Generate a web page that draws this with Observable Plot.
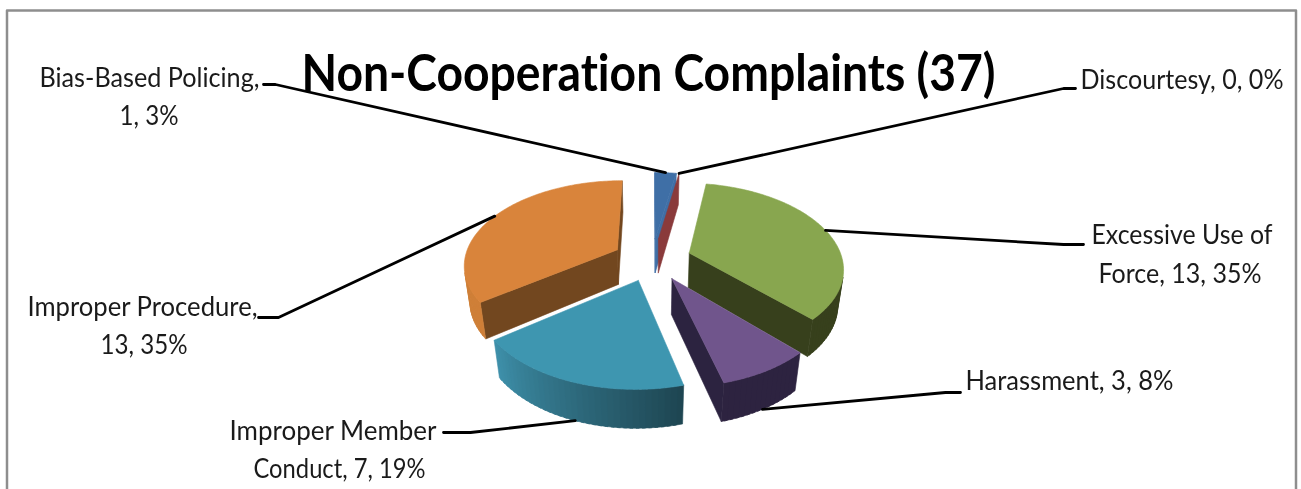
<!DOCTYPE html>
<html><head><meta charset="utf-8">
<script src="https://cdn.jsdelivr.net/npm/d3@7"></script>
<script src="https://cdn.jsdelivr.net/npm/@observablehq/plot@0.6"></script>
<style>html,body{margin:0;padding:0;background:#fff;overflow:hidden}svg{display:block;filter:blur(0.45px)}svg text{font-variant-ligatures:none}</style>
</head><body><div id="chart"></div>
<script>
// --- data
const categories = ["Bias-Based Policing","Discourtesy","Excessive Use of Force","Harassment","Improper Member Conduct","Improper Procedure"];
const counts = [1,0,13,3,7,13];
const percents = [3,0,35,8,19,35];
const chartTitle = "Non-Cooperation Complaints (37)";
// --- styles
const topColors = ["#3f6fa6","#8a3a3b","#88a64f","#70558c","#3e96b0","#d9843b"];
const faceColors = ["#3f6fa6","#8a3a3b","#37401c","#2c2340","#2a6070","#72471f"];
const rimStart = ["#3f6fa6","#8a3a3b","#37401c","#2d2340","#1e4551","#cf7f38"];
const rimEnd = ["#3f6fa6","#8a3a3b","#37401c","#2d2340","#3e90aa","#d08038"];
const drawOrder = [5,2,0,1,4,3];
const leaderDepth = [0,0,0,1,1,0];
// --- layout: text boxes and leader stubs
const labelLines = [
 {t:"Bias-Based Policing,",x0:39,x1:259,y:86},{t:"1, 3%",x0:119,x1:178,y:124},
 {t:"Discourtesy, 0, 0%",x0:1080,x1:1283,y:88},
 {t:"Excessive Use of",x0:1091,x1:1272,y:243},{t:"Force, 13, 35%",x0:1098,x1:1261,y:282},
 {t:"Harassment, 3, 8%",x0:965,x1:1173,y:389},
 {t:"Improper Member",x0:229,x1:436,y:439},{t:"Conduct, 7, 19%",x0:253,x1:425,y:477},
 {t:"Improper Procedure,",x0:27,x1:257,y:315},{t:"13, 35%",x0:100,x1:187,y:353}
];
const leaderStubs = [
 [[263,84],[275,84]],[[1075,88],[1063,88]],[[1083,244],[1063,244]],
 [[960,392],[945,392]],[[443,432],[470,432]],[[258,317],[278,317]]
];
const frameLine = [[6.5,495],[6.5,10],[1295.5,10],[1295.5,495]];
// --- pie projection
const vx=651.5, vy=258.8, rx=153, ry=83.3, persp=0.164, drop=36, depthGain=0.03, explode=0.258;
const rad = d=>d*Math.PI/180;
const total = d3.sum(counts);
let acc=0;
const slices = counts.map((v,i)=>{const a0=acc/total*360; acc+=v; const a1=acc/total*360; return {i,a0,a1,mid:(a0+a1)/2};});
function project(s,r,a,t){ // slice s, radius fraction r, angle a, t=0 top,1 bottom
  const m=rad(s.mid), A=rad(a);
  const X=explode*Math.sin(m)+r*Math.sin(A), Z=explode*Math.cos(m)+r*Math.cos(A);
  const d=1+persp*Z+depthGain*t;
  return [vx+rx*X/d, vy+(-ry*Z+drop*t)/d];
}
const area=p=>{let q=0;for(let k=0;k<p.length;k++){const a=p[k],b=p[(k+1)%p.length];q+=a[0]*b[1]-b[0]*a[1];}return q/2;};
const poly=(pts,fill,sw=0.6)=>Plot.line([...pts,pts[0]],{x:d=>d[0],y:d=>d[1],fill,stroke:fill,strokeWidth:sw,strokeLinejoin:"round"});
const sliceMarks=[];
for(const idx of drawOrder){
  const s=slices[idx];
  const apexT=project(s,0,s.a0,0), apexB=project(s,0,s.a0,1);
  const fs=[apexT,project(s,1,s.a0,0),project(s,1,s.a0,1),apexB];
  const fe=[apexT,project(s,1,s.a1,0),project(s,1,s.a1,1),apexB];
  if(area(fs)<0) sliceMarks.push(poly(fs,faceColors[idx]));
  if(area(fe)>0) sliceMarks.push(poly(fe,faceColors[idx]));
  const n=Math.max(1,Math.ceil((s.a1-s.a0)/2));
  const col=d3.interpolateRgb(rimStart[idx],rimEnd[idx]);
  for(let k=0;k<n;k++){
    const a=s.a0+(s.a1-s.a0)*k/n, b=Math.min(s.a1,s.a0+(s.a1-s.a0)*(k+1)/n+1);
    const q=[project(s,1,a,0),project(s,1,b,0),project(s,1,b,1),project(s,1,a,1)];
    if(area(q)<0) sliceMarks.push(poly(q,col((k+.5)/n),0.6));
  }
  if(s.a1>s.a0){
    const topPts=[apexT];
    for(let k=0;k<=n*2;k++) topPts.push(project(s,1,s.a0+(s.a1-s.a0)*k/(n*2),0));
    sliceMarks.push(poly(topPts,topColors[idx]));
  }
}
const leaders=slices.map((s,i)=>[...leaderStubs[i],project(s,1,s.mid,leaderDepth[i])]);
const plot=Plot.plot({
  width:1301,height:489,margin:0,
  x:{axis:null,domain:[0,1301],range:[0,1301]},
  y:{axis:null,domain:[0,489],range:[0,489]},
  marks:[
    Plot.line(frameLine,{x:d=>d[0],y:d=>d[1],stroke:"#8e8e8e",strokeWidth:2.5}),
    ...sliceMarks,
    ...leaders.map(l=>Plot.line(l,{x:d=>d[0],y:d=>d[1],stroke:"#000",strokeWidth:2.8})),
    Plot.text(labelLines,{x:d=>(d.x0+d.x1)/2,y:"y",text:"t",lineAnchor:"bottom",textAnchor:"middle",fontSize:27,fontFamily:"Lato",fill:"#1a1a1a"}),
    Plot.text([chartTitle],{x:[648],y:[90],lineAnchor:"bottom",textAnchor:"middle",fontSize:52,fontWeight:"bold",fontFamily:"Lato",fill:"#000"})
  ]
});
document.getElementById("chart").append(plot);
// fit every text line to the measured width in the picture
const widths=new Map(labelLines.map(d=>[d.t,d.x1-d.x0]));
widths.set(chartTitle,694);
d3.select(plot).selectAll("text").each(function(){
  const w=widths.get(this.textContent);
  if(w){this.setAttribute("textLength",w);this.setAttribute("lengthAdjust","spacingAndGlyphs");}
});
</script></body></html>
